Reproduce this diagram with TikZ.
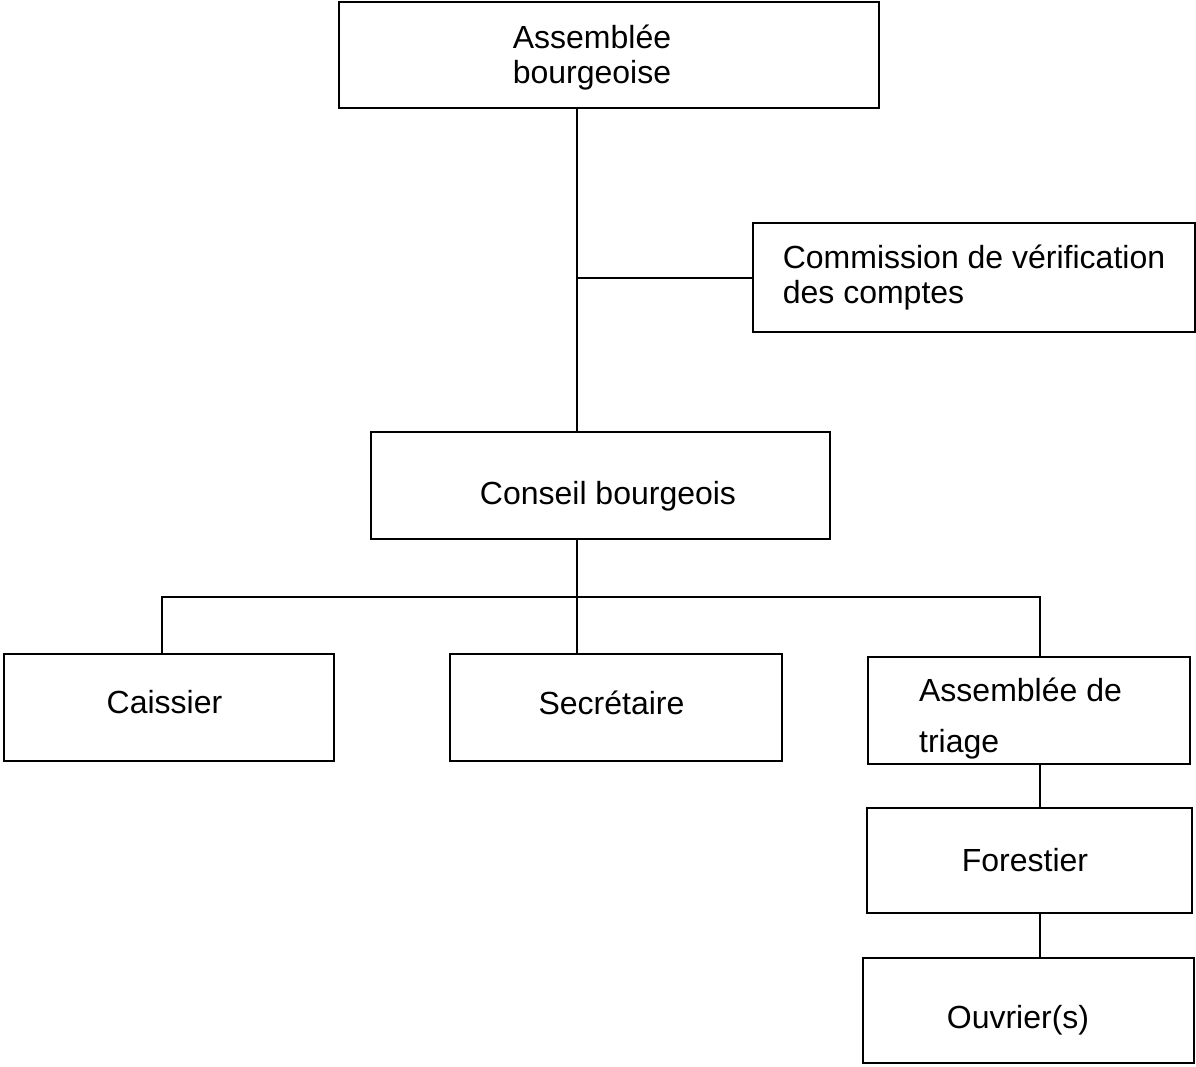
\documentclass[tikz,border=0pt]{standalone}
\usepackage{fontspec}
\setmainfont{Liberation Sans}
\tikzset{box/.style={draw, line width=2pt, inner sep=0pt},
  caption/.style={font=\fontsize{32}{35}\selectfont, align=center, inner sep=0pt}}

\begin{document}
\begin{tikzpicture}[x=1pt, y=-1pt]
        \useasboundingbox (0,0) rectangle (1196,1066);

          %Assemblée bourgeoise
          \node[box, minimum width=540, minimum height=106,
            label={[caption, xshift=-17, yshift=-3]center:Assemblée\\bourgeoise}] (ab) at (609,55) {};

          %Commission
          \node[box, minimum width=442, minimum height=109,
            label={[caption, align=left]center:Commission de vérification\\des comptes}] (com) at (974,277.5) {};

          %Conseil bourgeois
          \node[box, minimum width=459, minimum height=107,
            label={[caption, xshift=7.5, yshift=-11]center:Conseil bourgeois}] (cb) at (600.5,485.5) {};

          %Caissier, Secrétaire, Assemblée de triage
          \node[box, minimum width=330, minimum height=107,
            label={[caption, xshift=-4.5, yshift=5]center:Caissier}] (cai) at (169,707.5) {};
          \node[box, minimum width=332, minimum height=107,
            label={[caption, xshift=-4.5, yshift=5]center:Secrétaire}] (sec) at (616,707.5) {};
          \node[box, minimum width=322, minimum height=107,
            label={[caption, align=left, font=\fontsize{32}{51}\selectfont, xshift=-8.5, yshift=-8]center:Assemblée de\\triage}] (tri) at (1029,710.5) {};

          %Forestier -> Ouvrier(s)
          \node[box, minimum width=325, minimum height=105,
            label={[caption, xshift=-4.5]center:Forestier}] (for) at (1029.5,860.5) {};
          \node[box, minimum width=331, minimum height=105,
            label={[caption, xshift=-10.5, yshift=-9.5]center:Ouvrier(s)}] (ouv) at (1028.5,1010.5) {};

          %Verbindungen
          \coordinate (trunk) at (577,597);
          \coordinate (lft) at (162,597);
          \coordinate (rgt) at (1040,597);
          \draw[line width=2pt] (ab.south -| trunk) -- (cb.north -| trunk);
          \draw[line width=2pt] (trunk |- com.west) -- (com.west);
          \draw[line width=2pt] (cb.south -| trunk) -- (sec.north -| trunk);
          \draw[line width=2pt] (cai.north -| lft) -- (lft) -- (rgt) -- (tri.north -| rgt);
          \draw[line width=2pt] (tri.south -| rgt) -- (for.north -| rgt);
          \draw[line width=2pt] (for.south -| rgt) -- (ouv.north -| rgt);

        \end{tikzpicture}
\end{document}
